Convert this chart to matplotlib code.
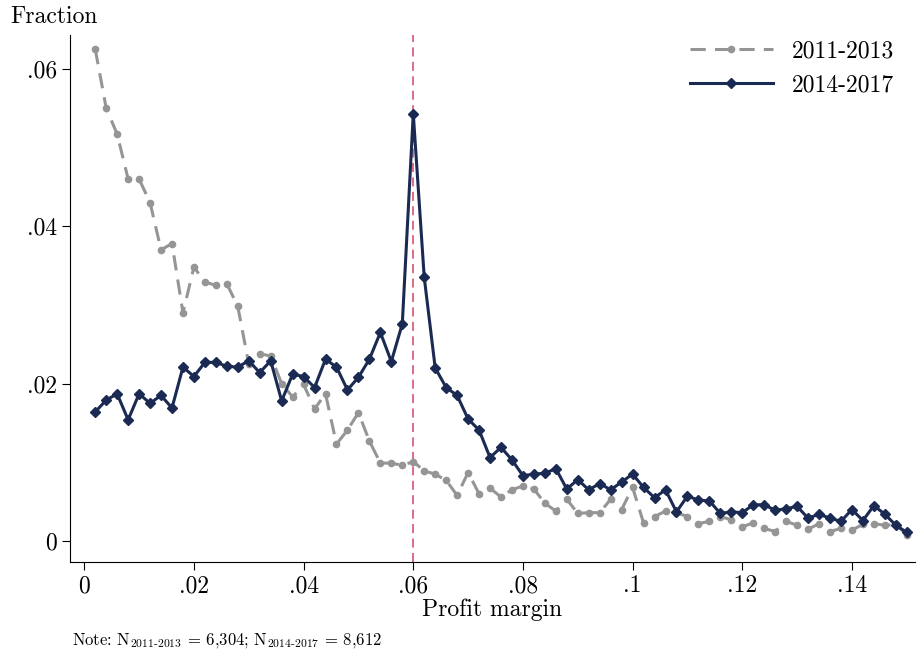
import matplotlib
matplotlib.use("Agg")
from matplotlib import pyplot as plt
from matplotlib.ticker import FuncFormatter
import numpy as np

plt.rcParams['font.family'] = 'serif'
plt.rcParams['font.serif'] = ['cmr10', 'DejaVu Serif']
plt.rcParams['mathtext.fontset'] = 'cm'
plt.rcParams['axes.unicode_minus'] = False
plt.rcParams['axes.formatter.use_mathtext'] = True

margin = np.round(np.arange(1, 76) * 0.002, 3)

y_1113 = [.0625, .055, .0517, .046, .046, .043, .037, .0378, .029, .0348,
          .0329, .0325, .0327, .0298, .0225, .0238, .0235, .020, .0183, .0199,
          .0168, .0187, .0123, .0141, .0163, .0127, .0099, .0099, .0096, .0101,
          .0089, .0085, .0077, .0058, .0087, .006, .0067, .0056, .0065, .007,
          .0066, .0048, .0038, .0053, .0035, .0036, .0036, .0053, .004, .0068,
          .0023, .0031, .0038, .0036, .0031, .0022, .0025, .0031, .0027, .0018,
          .0023, .0016, .0012, .0025, .002, .0015, .0022, .0012, .0016, .0014,
          .0021, .0022, .002, .0021, .0008]

y_1417 = [.0164, .0179, .0187, .0154, .0187, .0175, .0185, .0169, .0221, .0209,
          .0227, .0227, .0222, .0221, .0229, .0214, .0229, .0178, .0212, .0209,
          .0195, .0231, .0221, .0192, .0208, .0231, .0265, .0228, .0276, .0543,
          .0335, .022, .0195, .0185, .0155, .0141, .0106, .0119, .0103, .0083,
          .0085, .0086, .0092, .0066, .0078, .0065, .0073, .0065, .0075, .0085,
          .0068, .0055, .0065, .0037, .0057, .0052, .0051, .0035, .0037, .0036,
          .0046, .0046, .0039, .0041, .0044, .0029, .0034, .0029, .0025, .004,
          .0026, .0045, .0034, .002, .0011]

xticks = [0, .02, .04, .06, .08, .1, .12, .14]
yticks = [0, .02, .04, .06]

def fmt(v, pos):
  if v == 0:
    return '0'
  return ('%g' % v).lstrip('0')

fig = plt.figure(figsize=(9.17, 6.57), dpi=100)
ax = fig.add_axes([70/917, 1-562/657, 845/917, 527/657])

ax.plot(margin, y_1113, color='#959595', linestyle=(0, (5, 3)), linewidth=2.2,
        marker='o', markersize=4.5, label='2011-2013')
ax.plot(margin, y_1417, color='#1a2a52', linewidth=2.2,
        marker='D', markersize=5, label='2014-2017')
ax.axvline(0.06, color='#d9607f', linestyle=(0, (5, 3)), linewidth=1.3, zorder=0)

ax.set_xlim(-0.0026, 0.1515)
ax.set_ylim(-0.00267, 0.0643)
ax.set_xticks(xticks)
ax.set_yticks(yticks)
ax.xaxis.set_major_formatter(FuncFormatter(fmt))
ax.yaxis.set_major_formatter(FuncFormatter(fmt))
ax.tick_params(labelsize=17, direction='out', length=6)
for s in ['top', 'right']:
  ax.spines[s].set_visible(False)

ax.set_xlabel('Profit margin', fontsize=17, labelpad=1)
fig.text(10/917, 1-17/657, 'Fraction', fontsize=17, va='center')
fig.text(72/917, 1-641/657,
         r'Note: N$_{\mathregular{2011\text{-}2013}}$ = 6,304; N$_{\mathregular{2014\text{-}2017}}$ = 8,612',
         fontsize=12, va='center')

ax.legend(loc='upper right', frameon=False, fontsize=17, handlelength=3.5,
          bbox_to_anchor=(1.0, 1.03))

fig.savefig('out.png')
